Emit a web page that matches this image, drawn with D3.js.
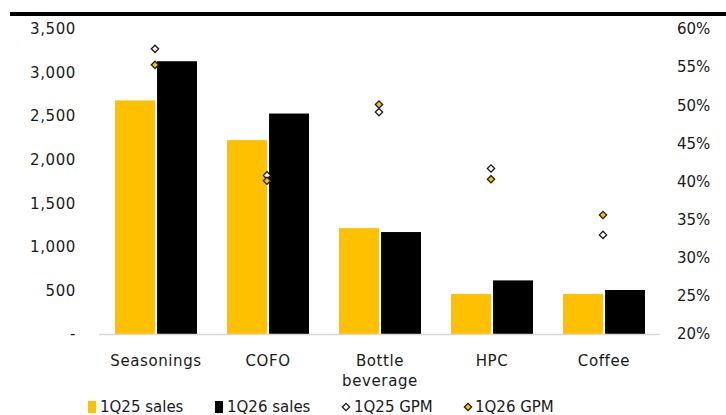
<!DOCTYPE html>
<html>
<head>
<meta charset="utf-8">
<script src="https://cdn.jsdelivr.net/npm/d3@7"></script>
<style>
  html, body { margin: 0; padding: 0; background: #fff; }
  svg { display: block; }
  text { font-family: "DejaVu Sans", sans-serif; fill: #1a1a1a; }
</style>
</head>
<body>
<svg id="chart" width="726" height="415"></svg>
<script>
// Segment data
const categories = ["Seasonings", "COFO", "Bottle\nbeverage", "HPC", "Coffee"];
const sales1Q25 = [2680, 2225, 1215, 460, 460];
const sales1Q26 = [3130, 2530, 1170, 615, 505];
const gpm1Q25 = [0.574, 0.408, 0.491, 0.417, 0.330];
const gpm1Q26 = [0.553, 0.401, 0.501, 0.403, 0.356];
const leftTicks = [0, 500, 1000, 1500, 2000, 2500, 3000, 3500];
const rightTicks = [0.20, 0.25, 0.30, 0.35, 0.40, 0.45, 0.50, 0.55, 0.60];
const seriesNames = ["1Q25 sales", "1Q26 sales", "1Q25 GPM", "1Q26 GPM"];

const GOLD = "#FFC000";
const BLACK = "#000000";
const FONT = 15;

const svg = d3.select("#chart");
const plot = { left: 100, right: 660, top: 29, bottom: 334 };

// Scales
const x0 = d3.scaleBand().domain(categories).range([plot.left, plot.right]).padding(0);
const groupW = 82;
const x1 = d3.scaleBand().domain(["a", "b"]).range([-groupW / 2, groupW / 2]).paddingInner(0.05);
const yL = d3.scaleLinear().domain([0, 3500]).range([plot.bottom, plot.top]);
const yR = d3.scaleLinear().domain([0.20, 0.60]).range([plot.bottom, plot.top]);
const cx = c => x0(c) + x0.bandwidth() / 2;

// Top rule
svg.append("line")
  .attr("x1", 10).attr("x2", 726).attr("y1", 14).attr("y2", 14)
  .attr("stroke", "#000").attr("stroke-width", 4);

// Left axis
const leftAxis = d3.axisLeft(yL).tickValues(leftTicks).tickSize(0).tickPadding(0)
  .tickFormat(v => v === 0 ? "-" : d3.format(",")(v));
const gL = svg.append("g").attr("transform", "translate(76,0)").call(leftAxis);
gL.select(".domain").remove();
gL.selectAll("text").style("font-size", FONT + "px").style("font-family", null)
  .style("letter-spacing", "0.6px").attr("fill", "#1a1a1a");

// Right axis
const rightAxis = d3.axisRight(yR).tickValues(rightTicks).tickSize(0).tickPadding(0)
  .tickFormat(d3.format(".0%"));
const gR = svg.append("g").attr("transform", "translate(677,0)").call(rightAxis);
gR.select(".domain").remove();
gR.selectAll("text").style("font-size", FONT + "px").style("font-family", null).attr("fill", "#1a1a1a");

// Bars
const barData = categories.map((c, i) => [
  { c, key: "a", v: sales1Q25[i], fill: GOLD },
  { c, key: "b", v: sales1Q26[i], fill: BLACK }
]).flat();
svg.append("g").selectAll("rect").data(barData).join("rect")
  .attr("x", d => cx(d.c) + x1(d.key))
  .attr("width", x1.bandwidth())
  .attr("y", d => yL(d.v))
  .attr("height", d => yL(0) - yL(d.v))
  .attr("fill", d => d.fill);

// Baseline
svg.append("line")
  .attr("x1", plot.left - 1).attr("x2", plot.right).attr("y1", plot.bottom + 0.5).attr("y2", plot.bottom + 0.5)
  .attr("stroke", "#d9d9d9").attr("stroke-width", 1.5);

// GPM markers
const diamond = d3.symbol().type(d3.symbolDiamond2).size(34);
const markerData = categories.map((c, i) => [
  { c, v: gpm1Q25[i], fill: "#fff" },
  { c, v: gpm1Q26[i], fill: GOLD }
]).flat();
svg.append("g").selectAll("path").data(markerData).join("path")
  .attr("d", diamond)
  .attr("transform", d => `translate(${cx(d.c) - 1},${yR(d.v)})`)
  .attr("fill", d => d.fill)
  .attr("stroke", "#1a1a1a").attr("stroke-width", 1.3);

// Category labels
const xl = svg.append("g");
categories.forEach(c => {
  const t = xl.append("text")
    .attr("x", cx(c)).attr("y", 366)
    .attr("text-anchor", "middle")
    .style("font-size", FONT + "px")
    .style("letter-spacing", "0.6px");
  c.split("\n").forEach((line, j) => {
    t.append("tspan").attr("x", cx(c)).attr("dy", j === 0 ? 0 : 20).text(line);
  });
});

// Legend
const legend = svg.append("g");
const legendX = [88, 215, 345, 467];
const legendTextX = [100, 227, 354, 475];
const legendY = 412;
seriesNames.forEach((name, i) => {
  if (i < 2) {
    legend.append("rect")
      .attr("x", legendX[i]).attr("y", legendY - 11)
      .attr("width", 8).attr("height", 12)
      .attr("fill", i === 0 ? GOLD : BLACK);
  } else {
    legend.append("path")
      .attr("d", diamond)
      .attr("transform", `translate(${legendX[i] + 1},${legendY - 5})`)
      .attr("fill", i === 2 ? "#fff" : GOLD)
      .attr("stroke", "#1a1a1a").attr("stroke-width", 1.3);
  }
  legend.append("text")
    .attr("x", legendTextX[i]).attr("y", legendY)
    .style("font-size", FONT + "px")
    .text(name);
});
</script>
</body>
</html>
